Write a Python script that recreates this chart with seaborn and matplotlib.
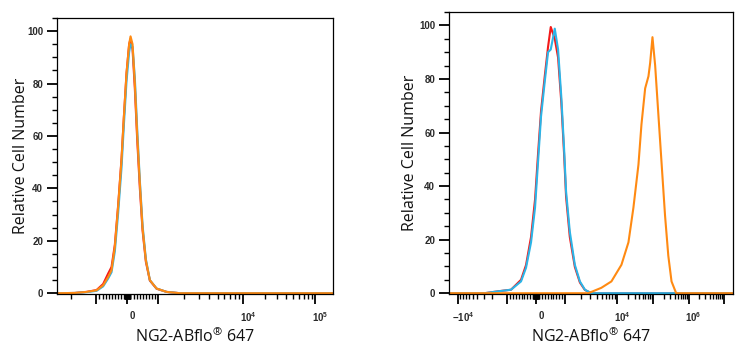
import numpy as np
import pandas as pd
import matplotlib
matplotlib.use("Agg")
import matplotlib.pyplot as plt
from matplotlib.ticker import FixedLocator, FixedFormatter, MultipleLocator
from matplotlib.transforms import ScaledTranslation
import seaborn as sns

# ---- histogram data: fluorescence intensity (NG2-ABflo 647) vs relative cell number ----
# left panel (isotype / unstained / stained overlap)
left_intensity = [-2900, -1791, -1304, -994, -781, -619, -510, -403, -297, -187, -113, -26,
                  58, 103, 168, 242, 316, 403, 490, 597, 726, 942, 1250, 1795, 178000]
left_red    = [0, 0.1, 0.5, 1.2, 3.5, 7.5, 10.0, 18.5, 33.5, 51.5, 67, 84,
               95, 97, 93, 78, 59, 40, 24, 12, 4.8, 1.7, 0.5, 0, 0]
left_cyan   = [0, 0.1, 0.4, 0.9, 2.6, 5.6, 8.0, 16.0, 30.5, 48, 64, 81,
               92, 95, 94, 82, 63, 43, 26, 13, 5.0, 1.8, 0.5, 0, 0]
left_orange = [0, 0.1, 0.5, 1.1, 3.0, 6.2, 8.8, 17.7, 33, 51, 67, 84,
               95, 98, 95, 80, 61, 42, 25, 12.6, 5.0, 1.8, 0.5, 0, 0]

# right panel
right_neg_intensity = [-18000, -2850, -1528, -862, -517, -345, -172, -34, 69, 172, 300, 414,
                       507, 645, 759, 872, 966, 1045, 1231, 1537, 1919, 2393, 3162, 18600000]
right_red  = [0, 0, 0.7, 1.3, 5.0, 10.5, 21, 35, 52, 68, 81, 92,
              99.4, 95, 88, 71, 52, 36, 21, 9.8, 4.0, 1.2, 0, 0]
right_cyan = [0, 0, 0.7, 1.3, 4.4, 9.5, 19, 32, 49, 66, 79, 90,
              91, 98.8, 91, 73, 54, 38, 23, 10.6, 4.4, 1.3, 0, 0]
right_pos_intensity = [-18000, 2767, 4920, 7674, 12910, 20220, 27800, 38300, 46400, 58800,
                       72600, 80900, 93800, 111700, 138300, 171400, 213800, 264900,
                       327500, 444400, 18600000]
right_orange = [0, 0, 2.0, 4.4, 10.6, 19, 32, 48, 63, 76.5,
                81, 86, 95.6, 85, 66.5, 48, 29, 14, 4.4, 0, 0]

# axis ranges and tick labels
left_xlim = (-2900, 178000)
right_xlim = (-18000, 18600000)
left_major = [-1e3, 0, 1e3, 1e4, 1e5]
left_major_labels = ["", "0", "", r"$\mathbf{10^{4}}$", r"$\mathbf{10^{5}}$"]
right_major = [-1e4, -1e3, 0, 1e3, 1e4, 1e5, 1e6, 1e7]
right_major_labels = [r"$\mathbf{-10^{4}}$", "", "0", "", r"$\mathbf{10^{4}}$", "",
                      r"$\mathbf{10^{6}}$", ""]

colors = {"red": "#f21a1a", "cyan": "#2bb5e8", "orange": "#ff8a12"}

sns.set_theme(style="ticks")
plt.rcParams.update({
    "font.family": ["Liberation Sans", "DejaVu Sans"],
    "mathtext.fontset": "custom",
    "mathtext.rm": "Liberation Sans",
    "mathtext.bf": "Liberation Sans:bold",
    "mathtext.default": "regular",
    "axes.linewidth": 0.9,
    "axes.edgecolor": "black",
})


def biex(G, P):
    """Biexponential-style display transform: linear around zero, log beyond +-1e3."""
    G = np.asarray(G, float)
    P = np.asarray(P, float)

    def g(x):
        x = np.asarray(x, float)
        a = np.abs(x)
        lg = 1 + np.log10(np.maximum(a, 1000.0) / 1000.0)
        return np.where(a <= 1000, x / 1000.0, np.sign(x) * lg)

    def g_inv(v):
        v = np.asarray(v, float)
        a = np.abs(v)
        return np.where(a <= 1, v * 1000.0, np.sign(v) * 1000.0 * 10 ** (np.maximum(a, 1) - 1))

    return (lambda x: np.interp(g(x), G, P)), (lambda p: g_inv(np.interp(p, P, G)))


left_scale = biex([-10, -2, -1, 0, 1, 2, 3, 10],
                  [-116 - 8 * 72, -116, -31, 0, 31, 115.8, 187.5, 187.5 + 7 * 72])
right_scale = biex([-10, -2, -1, 0, 1, 2, 3, 4, 5, 10],
                   [-78 - 8 * 35, -78, -29, 0, 29, 81.3, 117.3, 152.3, 187.3, 187.3 + 5 * 35])


def minor_values(majors):
    vals = []
    for n in range(1, 8):
        for k in range(1, 10):
            v = k * 10 ** n
            for s in (1, -1):
                if s * v not in majors:
                    vals.append(s * v)
    return sorted(vals)


fig = plt.figure(figsize=(7.45, 3.5), dpi=100)
ax_l = fig.add_axes([57 / 745, 56 / 350, 276 / 745, 276 / 350])
ax_r = fig.add_axes([449 / 745, 56 / 350, 284 / 745, 282 / 350])

panels = [
    (ax_l, left_scale, left_xlim, left_major, left_major_labels, -1.5,
     [(left_intensity, left_red, "red"), (left_intensity, left_cyan, "cyan"),
      (left_intensity, left_orange, "orange")]),
    (ax_r, right_scale, right_xlim, right_major, right_major_labels, 0.5,
     [(right_neg_intensity, right_red, "red"), (right_neg_intensity, right_cyan, "cyan"),
      (right_pos_intensity, right_orange, "orange")]),
]

for ax, scale, xlim, majors, major_labels, ypad, series in panels:
    ax.set_xscale("function", functions=scale)
    for xs, ys, name in series:
        df = pd.DataFrame({"intensity": xs, "count": ys})
        sns.lineplot(data=df, x="intensity", y="count", ax=ax, color=colors[name],
                     linewidth=1.5, errorbar=None, sort=True)
    ax.set_xlim(*xlim)
    ax.set_ylim(-0.3, 105)

    ax.xaxis.set_major_locator(FixedLocator(majors))
    ax.xaxis.set_major_formatter(FixedFormatter(major_labels))
    ax.xaxis.set_minor_locator(FixedLocator(minor_values(majors)))
    ax.yaxis.set_major_locator(FixedLocator([0, 20, 40, 60, 80, 100]))
    ax.yaxis.set_minor_locator(MultipleLocator(5))

    for side in ("top", "right", "left", "bottom"):
        ax.spines[side].set_visible(True)
        ax.spines[side].set_color("black")

    ax.tick_params(axis="both", which="major", direction="out", length=7, width=1.3,
                   color="black", labelsize=7, labelcolor="#2a2a2a", pad=3)
    ax.tick_params(axis="both", which="minor", direction="out", length=3.5, width=1.0,
                   color="black")
    ax.tick_params(axis="x", which="major", pad=5)
    for lbl in ax.get_yticklabels():
        lbl.set_fontweight("bold")
    shift = ScaledTranslation(5 / 100, 0, fig.dpi_scale_trans)
    for lbl in ax.get_xticklabels():
        lbl.set_fontweight("bold")
        lbl.set_transform(lbl.get_transform() + shift)

    ax.set_ylabel("Relative Cell Number", fontsize=11.5, family="Open Sans",
                  color="#111111", labelpad=ypad)
    ax.set_xlabel("NG2-ABflo$^{®}$ 647", fontsize=11.5, family="Open Sans",
                  color="#111111", labelpad=2)

fig.savefig("out.png", dpi=100)
